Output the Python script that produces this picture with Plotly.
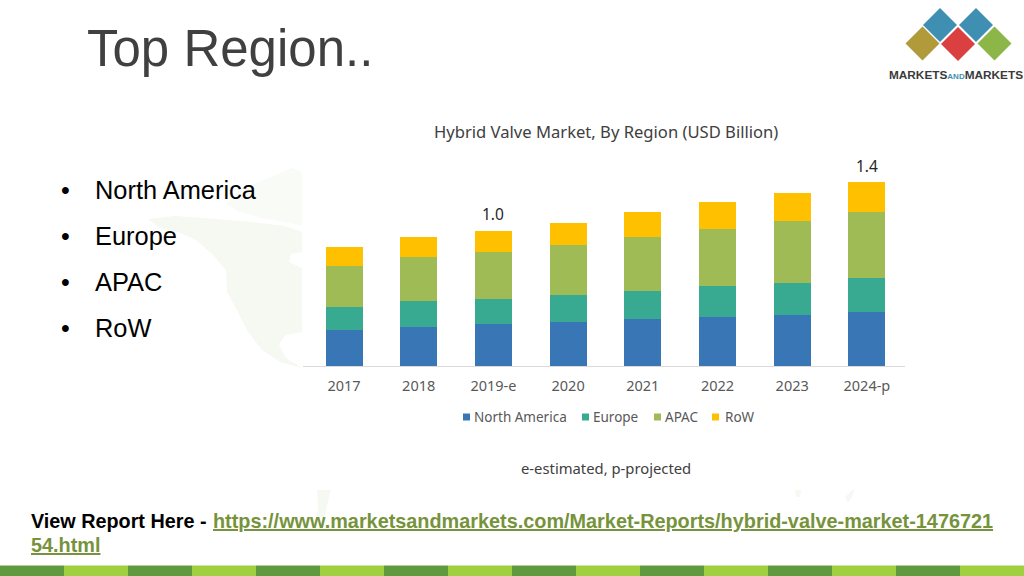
import plotly.graph_objects as go

years = ["2017", "2018", "2019-e", "2020", "2021", "2022", "2023", "2024-p"]
north_america = [0.274, 0.300, 0.318, 0.338, 0.356, 0.371, 0.389, 0.409]
europe = [0.178, 0.198, 0.193, 0.203, 0.218, 0.239, 0.246, 0.264]
apac = [0.312, 0.331, 0.361, 0.383, 0.412, 0.434, 0.473, 0.498]
row = [0.145, 0.152, 0.160, 0.168, 0.186, 0.208, 0.213, 0.229]
total_labels = ["", "", "1.0", "", "", "", "", "1.4"]

bullets = ["North America", "Europe", "APAC", "RoW"]
series = [
    ("North America", north_america, "#3876b6"),
    ("Europe", europe, "#38aa91"),
    ("APAC", apac, "#9fbb55"),
    ("RoW", row, "#ffc000"),
]

W, H = 1024, 576
SANS = "Liberation Sans"
CHART = "Noto Sans"


def px(x):
    return x / W


def py(y):
    return 1 - y / H


def poly(points):
    return "M" + " L".join(f"{px(x)},{py(y)}" for x, y in points) + " Z"


fig = go.Figure()
for name, values, color in series:
    fig.add_trace(go.Bar(x=years, y=values, name=name, marker={"color": color, "line": {"width": 0}}, width=0.495))

# totals above the stacks
totals = [sum(v) for v in zip(north_america, europe, apac, row)]
for year, total, label in zip(years, totals, total_labels):
    if label:
        fig.add_annotation(
            x=year, y=total, text=label, showarrow=False, yanchor="bottom", yshift=3.5,
            font={"family": CHART, "size": 15.5, "color": "#262626"},
        )


def text(x, y, s, size, color, family=SANS, anchor="left", **font):
    fig.add_annotation(
        xref="paper", yref="paper", x=px(x), y=py(y), text=s, showarrow=False,
        xanchor=anchor, yanchor="middle", borderpad=0, borderwidth=0,
        font={"family": family, "size": size, "color": color, **font},
    )


text(87, 48, "Top Region..", 51, "#404040")
for label, y in zip(bullets, [190, 236, 282, 328]):
    text(61, y, "•", 25, "#000000")
    text(95, y, label, 25.4, "#000000")

text(605.5, 131, "Hybrid Valve Market, By Region (USD Billion)", 16.6, "#404040", CHART, "center")
text(606, 468, "e-estimated, p-projected", 14.8, "#404040", CHART, "center")

text(31, 521, "<b>View Report Here -</b>", 19.8, "#000000")
link = "#76933c"
text(213, 521, "<b>https://www.marketsandmarkets.com/Market-Reports/hybrid-valve-market-1476721</b>",
     19.85, link, lineposition="under")
text(31, 545, "<b>54.html</b>", 19.85, link, lineposition="under")

shapes = []
# faint map behind the left column, clipped where the chart picture starts
map_fill = "#f5f9f1"
arctic_fill = "#f9fbf6"
shapes.append(dict(type="path", xref="paper", yref="paper", layer="below", line_width=0, fillcolor=map_fill, path=poly([
    (148, 219), (175, 216), (215, 219), (250, 222), (285, 226), (302, 232), (302, 252), (291, 254), (289, 262),
    (302, 268), (302, 332), (285, 335), (279, 345), (286, 358), (302, 368), (280, 362), (262, 350), (248, 332),
    (238, 312), (227, 292), (226, 270), (212, 254), (196, 240), (178, 232), (160, 228),
])))
shapes.append(dict(type="path", xref="paper", yref="paper", layer="below", line_width=0, fillcolor=arctic_fill, path=poly([
    (226, 204), (240, 190), (268, 178), (292, 168), (302, 172), (302, 226), (285, 222), (262, 218), (240, 212),
])))
for blob in [[(317, 490), (331, 490), (327, 505), (325, 516), (317, 518), (318, 505)],
             [(795, 490), (801, 490), (800, 497), (796, 497)],
             [(845, 497), (855, 488), (852, 497), (848, 503)]]:
    shapes.append(dict(type="path", xref="paper", yref="paper", layer="below", line_width=0,
                       fillcolor=map_fill, path=poly(blob)))

# footer strip
for i in range(16):
    shapes.append(dict(type="rect", xref="paper", yref="paper", x0=px(i * 64), x1=px((i + 1) * 64),
                       y0=py(576), y1=py(565.5), line_width=0, fillcolor="#5f9a3f" if i % 2 == 0 else "#a0cf40"))

# logo diamonds
for cx, cy, color in [(940, 25, "#3f8fb3"), (976, 25, "#3f8fb3"), (922.5, 43.5, "#b09a3a"),
                      (958, 44, "#d9403f"), (994.5, 43.5, "#8db648")]:
    r = 17
    shapes.append(dict(type="path", xref="paper", yref="paper", line_width=0, fillcolor=color,
                       path=poly([(cx - r, cy), (cx, cy - r), (cx + r, cy), (cx, cy + r)])))

text(955.5, 75,
     "<b>MARKETS<span style='font-size:8px;color:#3f8fb3'>AND</span>MARKETS</b>",
     11.8, "#3a3a3a", anchor="center")

# legend, laid out by hand: plotly's own keeps too wide a gap between swatch and text
for (name, _, color), swatch_x, text_x in zip(series, [463, 582, 654, 712], [474, 593, 665, 725]):
    shapes.append(dict(type="rect", xref="paper", yref="paper", x0=px(swatch_x), x1=px(swatch_x + 7),
                       y0=py(420.5), y1=py(413.5), line_width=0, fillcolor=color))
    text(text_x, 417, name, 13.5, "#595959", CHART)

fig.update_layout(
    width=W, height=H,
    paper_bgcolor="white", plot_bgcolor="rgba(0,0,0,0)",
    barmode="stack", bargap=0.505,
    margin={"l": 0, "r": 0, "t": 0, "b": 0, "pad": 0},
    shapes=shapes,
    showlegend=False,
    xaxis={
        "type": "category", "range": [-0.549, 7.51], "domain": [px(303), px(905)],
        "showgrid": False, "ticks": "",
        "showline": True, "linecolor": "#d9d9d9", "linewidth": 1, "ticklabelstandoff": 7,
        "tickfont": {"family": CHART, "size": 14.5, "color": "#595959"},
    },
    yaxis={"range": [0, 1.646], "visible": False, "domain": [py(366), py(150)]},
)

fig.write_html("out.html", config={"displayModeBar": False}, post_script="document.body.style.margin = '0';")
